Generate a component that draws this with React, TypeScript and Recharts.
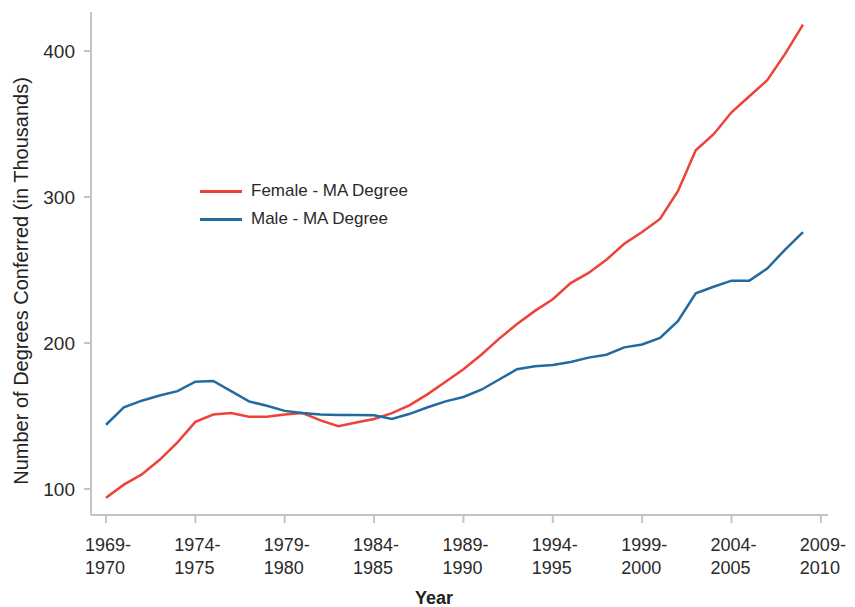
import { Legend, Line, LineChart, XAxis, YAxis } from "recharts";

// 1969-70 through 2008-09, one value per academic year (thousands)
const years = [
  "1969-70", "1970-71", "1971-72", "1972-73", "1973-74", "1974-75", "1975-76", "1976-77",
  "1977-78", "1978-79", "1979-80", "1980-81", "1981-82", "1982-83", "1983-84", "1984-85",
  "1985-86", "1986-87", "1987-88", "1988-89", "1989-90", "1990-91", "1991-92", "1992-93",
  "1993-94", "1994-95", "1995-96", "1996-97", "1997-98", "1998-99", "1999-00", "2000-01",
  "2001-02", "2002-03", "2003-04", "2004-05", "2005-06", "2006-07", "2007-08", "2008-09"
];

const female = [
  94, 103, 110, 120, 132, 146, 151, 152, 149.5, 149.5,
  151, 152, 147, 143, 145.5, 148, 152, 157.5, 165, 173.5,
  182, 192, 203, 213, 222, 230, 241, 248, 257, 268,
  276, 285, 304, 332, 343, 358, 369, 380, 398, 418
];

const male = [
  144, 156, 160.5, 164, 167, 173.5, 174, 167, 160, 157,
  153.5, 152, 151, 150.7, 150.7, 150.5, 148, 151.5, 156, 160,
  163, 168, 175, 182, 184, 185, 187, 190, 192, 197,
  199, 203.5, 215, 234, 238.5, 242.7, 242.7, 251, 264, 276
];

const xTicks = [0, 5, 10, 15, 20, 25, 30, 35, 40];
const xTickLabels = [
  "1969-1970", "1974-1975", "1979-1980", "1984-1985", "1989-1990",
  "1994-1995", "1999-2000", "2004-2005", "2009-2010"
];
const yTicks = [100, 200, 300, 400];

const data = years.map((y, i) => ({ i, year: y, female: female[i], male: male[i] }));

const FONT = "'Liberation Sans', Arial, Helvetica, sans-serif";
const RED = "#ee4238";
const BLUE = "#236a9f";
const AXIS = "#c4c4c4";

function YearTick({ x, y, payload }: any) {
  const idx = xTicks.indexOf(payload.value);
  const label = xTickLabels[idx] ?? "";
  const [a, b] = label.split("-");
  return (
    <g>
      <text x={x - 21} y={y + 26} textAnchor="start" fontFamily={FONT} fontSize={18} fill="#2a2a2a">
        {a + "-"}
      </text>
      <text x={x - 21} y={y + 49} textAnchor="start" fontFamily={FONT} fontSize={18} fill="#2a2a2a">
        {b}
      </text>
    </g>
  );
}

function LegendBox({ payload }: any) {
  return (
    <div style={{ fontFamily: FONT, fontSize: 17, color: "#2a2a2a" }}>
      {(payload || []).map((p: any) => (
        <div key={p.value} style={{ display: "flex", alignItems: "center", height: 28 }}>
          <span style={{ display: "inline-block", width: 42, height: 3, background: p.color, marginRight: 9 }} />
          <span>{p.value}</span>
        </div>
      ))}
    </div>
  );
}

export default function App() {
  return (
    <div style={{ position: "absolute", left: 0, top: 0, width: 855, height: 607, background: "#fff" }}>
      <LineChart width={855} height={607} data={data} margin={{ top: 12, right: 27, bottom: 62, left: 0 }}>
        <XAxis
          dataKey="i"
          type="number"
          domain={[-0.84, 40.4]}
          ticks={xTicks}
          interval={0}
          allowDataOverflow
          height={30}
          stroke={AXIS}
          strokeWidth={2}
          tickSize={8}
          tickLine={{ stroke: AXIS, strokeWidth: 2 }}
          tick={<YearTick />}
          label={{
            content: () => (
              <text x={434} y={604} textAnchor="middle" fontFamily={FONT} fontSize={18} fontWeight="bold" fill="#222">
                Year
              </text>
            )
          }}
        />
        <YAxis
          type="number"
          domain={[82.2, 426.7]}
          ticks={yTicks}
          interval={0}
          allowDataOverflow
          width={91}
          stroke={AXIS}
          strokeWidth={2}
          tickSize={7}
          tickMargin={9}
          tickLine={{ stroke: AXIS, strokeWidth: 2 }}
          tick={{ fontFamily: FONT, fontSize: 19, fill: "#2a2a2a" }}
          label={{
            content: () => (
              <text
                x={28}
                y={281}
                transform="rotate(-90 28 281)"
                textAnchor="middle"
                fontFamily={FONT}
                fontSize={20}
                fill="#222"
              >
                Number of Degrees Conferred (in Thousands)
              </text>
            )
          }}
        />
        <Legend
          layout="horizontal"
          verticalAlign="middle"
          align="center"
          content={<LegendBox />}
          wrapperStyle={{ left: 200, top: 177, width: 260 }}
        />
        <Line
          type="linear"
          dataKey="female"
          name="Female - MA Degree"
          stroke={RED}
          strokeWidth={2.5}
          dot={false}
          isAnimationActive={false}
        />
        <Line
          type="linear"
          dataKey="male"
          name="Male - MA Degree"
          stroke={BLUE}
          strokeWidth={2.5}
          dot={false}
          isAnimationActive={false}
        />
      </LineChart>
    </div>
  );
}
